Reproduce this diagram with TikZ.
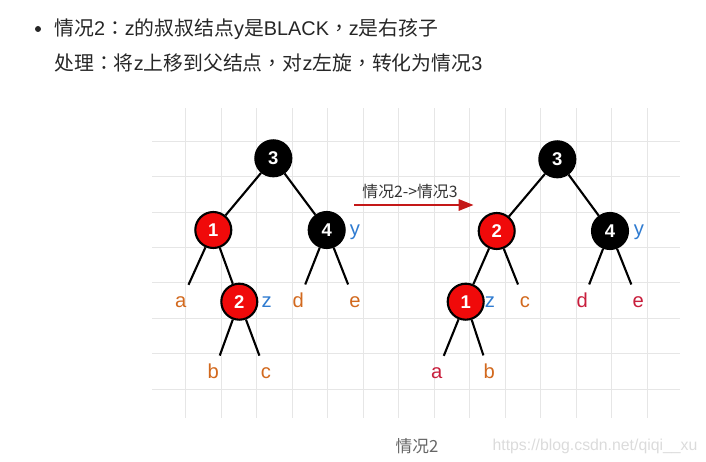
\documentclass[tikz,border=0pt]{standalone}
\usepackage{fontspec}
\setmainfont{Liberation Sans}
\newfontfamily\cjk{Noto Sans CJK SC}
\newfontfamily\cjkpunct{Noto Sans CJK TC}
\newcommand{\zh}[1]{{\cjk #1}}
\newcommand{\zp}[1]{{\cjkpunct #1}}
\usetikzlibrary{arrows.meta}
\definecolor{gridgray}{HTML}{E6E6E6}
\definecolor{nodered}{HTML}{F00A0A}
\definecolor{leaforange}{HTML}{D2691E}
\definecolor{leafcrimson}{HTML}{C81E3C}
\definecolor{tagblue}{HTML}{2F7BD0}
\definecolor{arrowred}{HTML}{C41818}
\tikzset{
  gridline/.style={draw=gridgray, line width=0.6pt},
  rednode/.style={circle, draw, line width=1.2pt, fill=nodered, minimum size=0.72cm, inner sep=0pt, text=white, font=\fontsize{10.5}{12}\selectfont\bfseries},
  blacknode/.style={rednode, fill=black},
  treeedge/.style={line width=1.2pt},
  leaf/.style={circle, minimum size=0.74cm, inner sep=0pt, text height=5.9pt, text depth=0pt, font=\fontsize{11.5}{13}\selectfont},
  leafora/.style={leaf, text=leaforange},
  leafred/.style={leaf, text=leafcrimson},
  nodetag/.style={leaf, text=tagblue},
  flowarrow/.style={-{Triangle[length=8.5pt, width=6.5pt]}, line width=1.1pt, draw=arrowred},
  headline/.style={anchor=west, text=black!85, inner sep=0pt, font=\fontsize{11.3}{13}\selectfont}
}

\begin{document}
\begin{tikzpicture}[x=0.02cm, y=-0.02cm]
  \useasboundingbox (0,0) rectangle (706,462);
  \foreach \gx in {0,...,13}
    \draw[gridline] (185.7+35.5*\gx,108) -- (185.7+35.5*\gx,418);
  \foreach \gy in {0,...,7}
    \draw[gridline] (152,141.3+35.4*\gy) -- (680,141.3+35.4*\gy);

  \node[circle, fill=black!85, inner sep=0pt, minimum size=0.12cm] (bullet) at (38,29) {};
  \node[headline] (case) at (54,29) {\zh{情况}2\zp{：}z\zh{的叔叔结点}y\zh{是}BLACK\zp{，}z\zh{是右孩子}};
  \node[headline] (todo) at (54,63) {\zh{处理}\zp{：}\zh{将}z\zh{上移到父结点}\zp{，}\zh{对}z\zh{左旋}\zp{，}\zh{转化为情况}3};

  \node[blacknode] (t1n3) at (273.3,158.3) {3};
  \node[rednode] (t1n1) at (213.3,230) {1};
  \node[blacknode] (t1n4) at (326.7,230) {4};
  \node[rednode] (t1n2) at (239.3,301.7) {2};
  \node[leafora] (t1a) at (180.7,302) {a};
  \node[leafora] (t1d) at (298.3,302) {d};
  \node[leafora] (t1e) at (355,302) {e};
  \node[leafora] (t1b) at (213.3,373.3) {b};
  \node[leafora] (t1c) at (266,373.3) {c};
  \node[nodetag] (t1y) at (355,230) {y};
  \node[nodetag] (t1z) at (266.7,302) {z};
  \draw[treeedge] (t1n3) -- (t1n1);
  \draw[treeedge] (t1n3) -- (t1n4);
  \draw[treeedge] (t1n1) -- (t1a);
  \draw[treeedge] (t1n1) -- (t1n2);
  \draw[treeedge] (t1n4) -- (t1d);
  \draw[treeedge] (t1n4) -- (t1e);
  \draw[treeedge] (t1n2) -- (t1b);
  \draw[treeedge] (t1n2) -- (t1c);

  \coordinate (arrfrom) at (354,205);
  \coordinate (arrto) at (473.5,205);
  \draw[flowarrow] (arrfrom) -- (arrto);
  \node[text=black!80, font=\cjk\fontsize{9}{11}\selectfont] (arrtext) at (410,191) {情况2->情况3};

  \node[blacknode] (t2n3) at (557.3,159.3) {3};
  \node[rednode] (t2n2) at (496.7,231) {2};
  \node[blacknode] (t2n4) at (610,231) {4};
  \node[rednode] (t2n1) at (465.7,301.7) {1};
  \node[leafora] (t2c) at (525,302) {c};
  \node[leafred] (t2d) at (582.3,302) {d};
  \node[leafred] (t2e) at (638.3,302) {e};
  \node[leafred] (t2a) at (436.7,373.3) {a};
  \node[leafora] (t2b) at (489.3,373.3) {b};
  \node[nodetag] (t2y) at (639,230) {y};
  \node[nodetag] (t2z) at (490,302) {z};
  \draw[treeedge] (t2n3) -- (t2n2);
  \draw[treeedge] (t2n3) -- (t2n4);
  \draw[treeedge] (t2n2) -- (t2n1);
  \draw[treeedge] (t2n2) -- (t2c);
  \draw[treeedge] (t2n4) -- (t2d);
  \draw[treeedge] (t2n4) -- (t2e);
  \draw[treeedge] (t2n1) -- (t2a);
  \draw[treeedge] (t2n1) -- (t2b);

  \node[text=black!60, font=\cjk\fontsize{9.5}{11}\selectfont] (caption) at (417,446) {情况2};
  \node[text=black!14, font=\fontsize{9}{11}\selectfont] (mark) at (595,446) {https://blog.csdn.net/qiqi\_\_xu};
\end{tikzpicture}
\end{document}
